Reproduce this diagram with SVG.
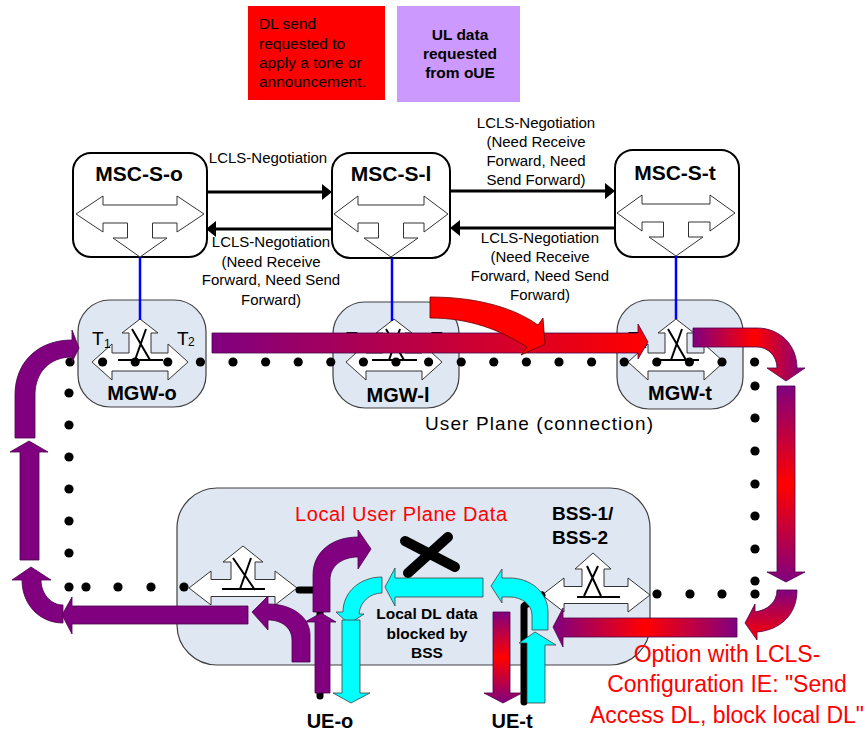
<svg xmlns="http://www.w3.org/2000/svg" width="867" height="731" viewBox="0 0 867 731">
<defs>
<style>
.t{font-family:"Liberation Sans",Arial,sans-serif;fill:#000}
.b{font-weight:bold}
.m{text-anchor:middle}
.msc{fill:#fff;stroke:#000;stroke-width:2}
.mgw{fill:#dfe7f3;stroke:#404040;stroke-width:1.2}
.sym{fill:#fff;stroke:#333;stroke-width:1}
.sw{stroke:#000;stroke-width:2;fill:none}
.neg{stroke:#000;stroke-width:3;fill:none;marker-end:url(#ah)}
.blue{stroke:#0000ff;stroke-width:2.5}
.pu{fill:#800080;stroke:#4a004a;stroke-width:0.8}
.cy{fill:#00ffff;stroke:#404040;stroke-width:0.8}
.gr{stroke:#4a004a;stroke-width:0.8}
.red{fill:#ff0000}
</style>
<marker id="ah" viewBox="0 0 10 16" refX="2" refY="8" markerWidth="10" markerHeight="16" orient="auto" markerUnits="userSpaceOnUse"><path d="M0 0 L10 8 L0 16 Z" fill="#000"/></marker>
<linearGradient id="gPR" gradientUnits="userSpaceOnUse" x1="212" y1="0" x2="648" y2="0"><stop offset="0" stop-color="#800080"/><stop offset="1" stop-color="#ff0000"/></linearGradient>
<linearGradient id="gTR" gradientUnits="userSpaceOnUse" x1="693" y1="0" x2="805" y2="0"><stop offset="0" stop-color="#800080"/><stop offset="0.55" stop-color="#ff0000"/><stop offset="1" stop-color="#800080"/></linearGradient>
<linearGradient id="gRD" gradientUnits="userSpaceOnUse" x1="0" y1="386" x2="0" y2="582"><stop offset="0" stop-color="#800080"/><stop offset="0.5" stop-color="#ff0000"/><stop offset="1" stop-color="#800080"/></linearGradient>
<linearGradient id="gCo" gradientUnits="userSpaceOnUse" x1="0" y1="590" x2="0" y2="640"><stop offset="0" stop-color="#800080"/><stop offset="1" stop-color="#ff0000"/></linearGradient>
<linearGradient id="gBo" gradientUnits="userSpaceOnUse" x1="553" y1="0" x2="737" y2="0"><stop offset="0" stop-color="#800080"/><stop offset="0.5" stop-color="#ff0000"/><stop offset="1" stop-color="#800080"/></linearGradient>
<linearGradient id="gUt" gradientUnits="userSpaceOnUse" x1="0" y1="612" x2="0" y2="703"><stop offset="0" stop-color="#800080"/><stop offset="0.5" stop-color="#ff0000"/><stop offset="1" stop-color="#800080"/></linearGradient>
</defs>
<rect width="867" height="731" fill="#fff"/>

<g id="note-dl">
<rect x="248" y="6" width="137" height="94" fill="#ff0000"/>
<text class="t" font-size="15.5" x="259"><tspan x="259" y="29">DL send</tspan><tspan x="259" y="49">requested to</tspan><tspan x="259" y="68">apply a tone or</tspan><tspan x="259" y="87">announcement.</tspan></text>
</g>
<g id="note-ul">
<rect x="397" y="6" width="123" height="96" fill="#cc99ff"/>
<text class="t b m" font-size="15.5"><tspan x="460" y="40">UL data</tspan><tspan x="460" y="59">requested</tspan><tspan x="460" y="78">from oUE</tspan></text>
</g>

<g id="msc-s-o">
<rect class="msc" x="73" y="153" width="134" height="104" rx="18"/>
<text class="t b m" font-size="21" x="139" y="181">MSC-S-o</text>
<path class="sym" d="M 76 214 L 103 196 V 205 H 177 V 196 L 204 214 L 177 232 V 223 H 152.5 V 238 H 167 L 140 257 L 113 238 H 127.5 V 223 H 103 V 232 Z"/>
</g>
<g id="msc-s-l">
<rect class="msc" x="332" y="153" width="118" height="105" rx="18"/>
<text class="t b m" font-size="21" x="391" y="181">MSC-S-l</text>
<path class="sym" d="M 334 214 L 358 196 V 205 H 424 V 196 L 448 214 L 424 232 V 223 H 403.5 V 238 H 418 L 391 257 L 364 238 H 378.5 V 223 H 358 V 232 Z"/>
</g>
<g id="msc-s-t">
<rect class="msc" x="615" y="150" width="124" height="107" rx="18"/>
<text class="t b m" font-size="21" x="675" y="180">MSC-S-t</text>
<path class="sym" d="M 617 213 L 642 195 V 204 H 710 V 195 L 735 213 L 710 231 V 222 H 688.5 V 237 H 703 L 676 256 L 649 237 H 663.5 V 222 H 642 V 231 Z"/>
</g>

<g id="mgw-o">
<rect class="mgw" x="78" y="300" width="128" height="107" rx="32"/>
<path class="sym" d="M 92 362 L 112 344 V 353 H 129 V 333 H 122 L 140 319 L 158 333 H 151 V 353 H 168 V 344 L 188 362 L 168 380 V 371 H 112 V 380 Z"/>
<path class="sw" d="M 132 329 L 150 360 M 146 329 L 135 360 M 118 360 H 163"/>
<text class="t" font-size="19" x="92" y="345">T</text><text class="t" font-size="12" x="104" y="348">1</text>
<text class="t" font-size="19" x="177" y="345">T</text><text class="t" font-size="12" x="188" y="346">2</text>
<text class="t b m" font-size="20" x="142" y="400">MGW-o</text>
</g>
<g id="mgw-l">
<rect class="mgw" x="333" y="302" width="126" height="106" rx="32"/>
<path class="sym" d="M 346 362 L 366 344 V 353 H 383 V 333 H 376 L 394 319 L 412 333 H 405 V 353 H 422 V 344 L 442 362 L 422 380 V 371 H 366 V 380 Z"/>
<path class="sw" d="M 386 329 L 404 360 M 400 329 L 389 360 M 372 360 H 417"/>
<text class="t" font-size="19" x="346" y="345">T</text><text class="t" font-size="12" x="358" y="348">1</text>
<text class="t" font-size="19" x="431" y="345">T</text><text class="t" font-size="12" x="442" y="346">2</text>
<text class="t b m" font-size="20" x="398" y="402">MGW-l</text>
</g>
<g id="mgw-t">
<rect class="mgw" x="617" y="300" width="126" height="109" rx="32"/>
<path class="sym" d="M 628 362 L 648 344 V 353 H 665 V 333 H 658 L 676 319 L 694 333 H 687 V 353 H 704 V 344 L 724 362 L 704 380 V 371 H 648 V 380 Z"/>
<path class="sw" d="M 668 329 L 686 360 M 682 329 L 671 360 M 654 360 H 699"/>
<text class="t" font-size="19" x="628" y="345">T</text><text class="t" font-size="12" x="640" y="348">1</text>
<text class="t" font-size="19" x="713" y="345">T</text><text class="t" font-size="12" x="724" y="346">2</text>
<text class="t b m" font-size="20" x="680" y="400">MGW-t</text>
</g>

<g id="bss">
<rect class="mgw" x="177" y="488" width="473" height="177" rx="40"/>
<path class="sym" d="M 189 588 L 211 571 V 579.5 H 231 V 562 H 223 L 243 546 L 263 562 H 255 V 579.5 H 275 V 571 L 297 588 L 275 605 V 596.5 H 211 V 605 Z"/>
<path class="sw" d="M 233 558 L 255 590 M 251 558 L 240 589 M 222 589 H 265"/>
<path class="sym" d="M 542 595 L 564 578 V 586.5 H 582 V 569 H 575 L 593 553 L 611 569 H 604 V 586.5 H 628 V 578 L 650 595 L 628 612 V 603.5 H 564 V 612 Z"/>
<path class="sw" d="M 587 566 L 601 596 M 598 566 L 584 596 M 577 597 H 620"/>
<text class="t b" font-size="19"><tspan x="552" y="520">BSS-1/</tspan><tspan x="552" y="544">BSS-2</tspan></text>
</g>

<g id="connectors">
<line class="blue" x1="140" y1="257" x2="140" y2="320"/>
<line class="blue" x1="392" y1="258" x2="392" y2="321"/>
<line class="blue" x1="676" y1="256" x2="676" y2="319"/>
<path class="neg" d="M 207 192 H 324"/>
<path class="neg" d="M 332 229 H 214"/>
<path class="neg" d="M 450 191 H 607"/>
<path class="neg" d="M 615 228 H 458"/>
<g fill="#000">
<circle cx="70" cy="362" r="4.6"/><circle cx="102.6" cy="362" r="4.6"/><circle cx="135.2" cy="362" r="4.6"/><circle cx="167.8" cy="362" r="4.6"/><circle cx="200.4" cy="362" r="4.6"/><circle cx="233" cy="362" r="4.6"/><circle cx="265.6" cy="362" r="4.6"/><circle cx="298.2" cy="362" r="4.6"/><circle cx="330.8" cy="362" r="4.6"/><circle cx="363.4" cy="362" r="4.6"/><circle cx="396" cy="362" r="4.6"/><circle cx="428.6" cy="362" r="4.6"/><circle cx="461.2" cy="362" r="4.6"/><circle cx="493.8" cy="362" r="4.6"/><circle cx="526.4" cy="362" r="4.6"/><circle cx="559" cy="362" r="4.6"/><circle cx="591.6" cy="362" r="4.6"/><circle cx="624.2" cy="362" r="4.6"/><circle cx="656.8" cy="362" r="4.6"/><circle cx="689.4" cy="362" r="4.6"/><circle cx="722" cy="362" r="4.6"/><circle cx="754.6" cy="362" r="4.6"/>
<circle cx="69" cy="393" r="4.6"/><circle cx="69" cy="425" r="4.6"/><circle cx="69" cy="457" r="4.6"/><circle cx="69" cy="489" r="4.6"/><circle cx="69" cy="521" r="4.6"/><circle cx="69" cy="553" r="4.6"/><circle cx="69" cy="587" r="4.6"/>
<circle cx="86" cy="587" r="4.6"/><circle cx="118" cy="587" r="4.6"/><circle cx="151" cy="587" r="4.6"/><circle cx="184" cy="587" r="4.6"/>
<circle cx="755" cy="386" r="4.6"/><circle cx="755" cy="418" r="4.6"/><circle cx="755" cy="451" r="4.6"/><circle cx="755" cy="484" r="4.6"/><circle cx="755" cy="516" r="4.6"/><circle cx="755" cy="549" r="4.6"/><circle cx="755" cy="581" r="4.6"/><circle cx="755" cy="594" r="4.6"/>
<circle cx="657" cy="594" r="4.6"/><circle cx="690" cy="594" r="4.6"/><circle cx="722" cy="594" r="4.6"/>
</g>
<path fill="none" stroke="#000" stroke-width="7" stroke-linecap="round" stroke-linejoin="round" d="M 299 590 H 320 V 696"/>
<path fill="none" stroke="#000" stroke-width="7" stroke-linecap="round" stroke-linejoin="round" d="M 542 595 L 524 606 V 702"/>
<path fill="none" stroke="#000" stroke-width="10" stroke-linecap="round" d="M 405 541 L 455 567 M 448 537 L 408 573"/>

<path class="gr" fill="url(#gPR)" d="M 212 333 H 638 V 324 L 648 342 L 638 359 V 353 H 212 Z"/>
<path class="red" stroke="#600" stroke-width="0.8" d="M 430 297 C 470 297 510 305 538 325 L 543 318 L 545 344 L 521 355 L 527 347 C 500 330 470 318 430 318 Z"/>
<path class="gr" fill="url(#gTR)" d="M 693 328 H 757 C 780 328 797 345 797 368 H 805 L 786 381 L 767 368 H 777 C 777 356 768 347 757 347 H 693 Z"/>
<path class="gr" fill="url(#gRD)" d="M 777 386 H 795 V 572 H 805 L 786 582 L 767 572 H 777 Z"/>
<path class="gr" fill="url(#gCo)" d="M 797 590 C 797 615 780 630 757 632 V 640 L 745 623 L 755 604 V 612 C 768 610 777 602 777 590 Z"/>
<path class="gr" fill="url(#gBo)" d="M 737 618 H 563 V 608 L 553 627 L 563 647 V 637 H 737 Z"/>
<path class="pu" d="M 248 606 H 72 V 597 L 62 615 L 72 634 V 624 H 248 Z"/>
<path class="pu" d="M 63 623 C 40 623 22 605 22 580 H 12 L 31 567 L 51 580 H 41 C 41 594 51 605 63 605 Z"/>
<path class="pu" d="M 20 560 V 452 H 10 L 29 441 L 48 452 H 39 V 560 Z"/>
<path class="pu" d="M 15 438 V 395 C 15 362 38 340 72 340 V 330 L 79 348 L 72 362 V 357 C 50 357 35 372 35 395 V 438 Z"/>
<path class="pu" d="M 310 662 V 635 C 310 617 292 604 268 604 V 596 L 252 612 L 268 630 V 620 C 282 620 292 628 292 640 V 662 Z"/>
<path class="pu" d="M 313 612 V 575 C 313 552 332 537 358 537 V 530 L 371 549 L 358 569 V 557 C 342 557 330 566 330 580 V 612 Z"/>
<path class="pu" d="M 315 693 V 622 H 305 L 321 613 L 336 622 H 330 V 693 Z"/>
<path class="cy" d="M 483 578 H 395 V 568 L 385 587 L 395 606 V 597 H 483 Z"/>
<path class="cy" d="M 382 577 C 360 577 343 592 343 612 H 336 L 349 624 L 364 614 H 359 C 360 602 370 593 382 593 Z"/>
<path class="cy" d="M 342 620 H 360 V 693 H 370 L 351 703 L 333 693 H 342 Z"/>
<path class="cy" d="M 548 630 V 612 C 548 592 530 578 510 578 H 502 V 569 L 491 586 L 502 603 V 597 H 510 C 522 597 532 605 532 615 V 630 Z"/>
<path class="cy" d="M 527 703 V 643 H 519 L 535 632 L 556 645 H 545 V 703 Z"/>
<path class="gr" fill="url(#gUt)" d="M 493 612 H 510 V 693 H 522 L 503 703 L 484 693 H 493 Z"/>
</g>

<g id="labels">
<text class="t m" font-size="15" x="268" y="163">LCLS-Negotiation</text>
<text class="t m" font-size="15"><tspan x="271" y="247">LCLS-Negotiation</tspan><tspan x="271" y="267">(Need Receive</tspan><tspan x="271" y="285">Forward, Need Send</tspan><tspan x="271" y="305">Forward)</tspan></text>
<text class="t m" font-size="15"><tspan x="536" y="128">LCLS-Negotiation</tspan><tspan x="536" y="147">(Need Receive</tspan><tspan x="536" y="166">Forward, Need</tspan><tspan x="536" y="185">Send Forward)</tspan></text>
<text class="t m" font-size="15"><tspan x="540" y="243">LCLS-Negotiation</tspan><tspan x="540" y="262">(Need Receive</tspan><tspan x="540" y="281">Forward, Need Send</tspan><tspan x="540" y="300">Forward)</tspan></text>
<text class="t" font-size="19" x="425" y="430" textLength="228" lengthAdjust="spacing">User Plane (connection)</text>
<text class="t" font-size="20" x="295" y="521" fill="#ff0000" style="fill:#ff0000" textLength="212" lengthAdjust="spacing">Local User Plane Data</text>
<text class="t b m" font-size="15.5"><tspan x="427" y="619">Local DL data</tspan><tspan x="427" y="639">blocked by</tspan><tspan x="427" y="658">BSS</tspan></text>
<text id="ue-o" class="t b m" font-size="20" x="330" y="728">UE-o</text>
<text id="ue-t" class="t b m" font-size="20" x="512" y="728">UE-t</text>
<text class="t m" font-size="23" style="fill:#ff0000"><tspan x="727" y="662">Option with LCLS-</tspan><tspan x="727" y="692">Configuration IE: "Send</tspan><tspan x="727" y="723">Access DL, block local DL"</tspan></text>
</g>
</svg>
